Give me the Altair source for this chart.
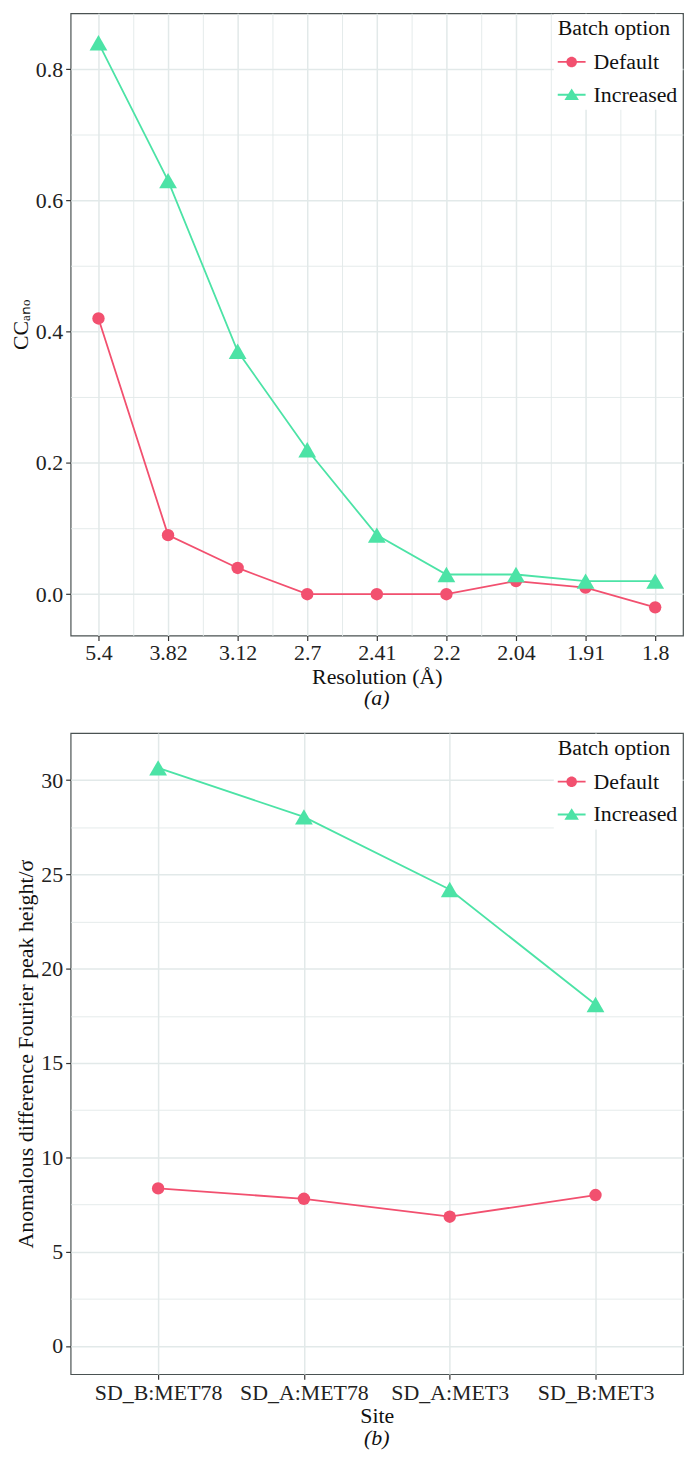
import json
import altair as alt
import pandas as pd

# ---------------- data ----------------
SERIES = ["Default", "Increased"]
COLORS = ["#F2506F", "#4CE3A6"]
MARKERS = ["circle", "triangle-up"]
LEGEND_TITLE = "Batch option"

resolution_labels = ["5.4", "3.82", "3.12", "2.7", "2.41", "2.2", "2.04", "1.91", "1.8"]
cc_default = [0.42, 0.09, 0.04, 0.00, 0.00, 0.00, 0.02, 0.01, -0.02]
cc_increased = [0.84, 0.63, 0.37, 0.22, 0.09, 0.03, 0.03, 0.02, 0.02]

sites = ["SD_B:MET78", "SD_A:MET78", "SD_A:MET3", "SD_B:MET3"]
peak_default = [8.35, 7.8, 6.85, 8.0]
peak_increased = [30.65, 28.05, 24.2, 18.1]

rows_a = []
for i, lab in enumerate(resolution_labels):
    rows_a.append({"idx": i + 1, "series": SERIES[0], "value": cc_default[i]})
    rows_a.append({"idx": i + 1, "series": SERIES[1], "value": cc_increased[i]})
df_a = pd.DataFrame(rows_a)

rows_b = []
for i, s in enumerate(sites):
    rows_b.append({"site": s, "series": SERIES[0], "value": peak_default[i]})
    rows_b.append({"site": s, "series": SERIES[1], "value": peak_increased[i]})
df_b = pd.DataFrame(rows_b)

# ---------------- style ----------------
FONT = "Liberation Serif"
FS = 22
GRID = "#E2E9E9"
MARK_SIZES = [155, 320]

# legend glyphs (filled, unit coordinates): a short line with the marker on it
LEG_CIRCLE = ("M-1,-0.065H1V0.065H-1Z "
              "M-0.38,0A0.38,0.38 0 1,1 0.38,0A0.38,0.38 0 1,1 -0.38,0Z")
LEG_TRIANGLE = "M-1,-0.065H1V0.065H-1Z M0,-0.45L0.52,0.37L-0.52,0.37Z"
LEGEND_SYMBOLS = [LEG_CIRCLE, LEG_TRIANGLE]


def cond(test, yes, no):
    return {"condition": {"test": test, "value": yes}, "value": no}


def build_panel(df, x_enc, y_enc, width, height, caption):
    base = alt.Chart(df).encode(x=x_enc, y=y_enc)
    layers = []
    for s, c in zip(SERIES, COLORS):
        layers.append(
            base.transform_filter(alt.datum.series == s).mark_line(strokeWidth=1.8, color=c)
        )
    for s, c, m, sz in zip(SERIES, COLORS, MARKERS, MARK_SIZES):
        layers.append(
            base.transform_filter(alt.datum.series == s).mark_point(
                shape=m, filled=True, size=sz, opacity=1, color=c
            )
        )
    leg = alt.Chart(df).transform_filter("false").mark_point(
        filled=True, opacity=1, strokeWidth=0
    ).encode(
        color=alt.Color("series:N", scale=alt.Scale(domain=SERIES, range=COLORS),
                        legend=alt.Legend(title=LEGEND_TITLE)),
        shape=alt.Shape("series:N", scale=alt.Scale(domain=SERIES, range=LEGEND_SYMBOLS),
                        legend=alt.Legend(title=LEGEND_TITLE)),
    )
    layers.append(leg)
    return alt.layer(*layers).properties(
        width=width,
        height=height,
        title=alt.TitleParams(
            caption, orient="bottom", font=FONT, fontSize=FS, fontStyle="italic",
            fontWeight="normal", color="#111111", offset=1, anchor="middle",
        ),
    )


# ---------------- panel (a) ----------------
x_vals_a = [i / 2 for i in range(2, 19)]
labels_js = json.dumps(resolution_labels)
x_a = alt.X(
    "idx:Q",
    title="Resolution (Å)",
    scale=alt.Scale(domain=[0.6, 9.4], nice=False, zero=False),
    axis=alt.Axis(
        values=x_vals_a,
        labelExpr=f"datum.value % 1 == 0 ? {labels_js}[datum.value - 1] : ''",
        gridWidth=cond("datum.value % 1 != 0", 0.9, 1.5),
        tickOpacity=cond("datum.value % 1 != 0", 0, 1),
        labelPadding=2,
        titlePadding=3,
    ),
)
y_vals_a = [round(v / 10, 1) for v in range(0, 9)]
y_a = alt.Y(
    "value:Q",
    title="CCₐₙₒ",
    scale=alt.Scale(domain=[-0.063, 0.885], nice=False, zero=False),
    axis=alt.Axis(
        values=y_vals_a,
        labelExpr="round(datum.value*10) % 2 == 0 ? format(datum.value, '.1f') : ''",
        gridWidth=cond("round(datum.value*10) % 2 != 0", 0.9, 1.5),
        tickOpacity=cond("round(datum.value*10) % 2 != 0", 0, 1),
        titlePadding=3,
    ),
)
panel_a = build_panel(df_a, x_a, y_a, 616, 626, "(a)")

# ---------------- panel (b) ----------------
x_b = alt.X(
    "site:N",
    title="Site",
    sort=sites,
    scale=alt.Scale(padding=0.6),
    axis=alt.Axis(labelAngle=0, grid=True, gridWidth=1.5, titlePadding=3),
)
y_vals_b = [v * 2.5 for v in range(0, 13)]
y_b = alt.Y(
    "value:Q",
    title="Anomalous difference Fourier peak height/σ",
    scale=alt.Scale(domain=[-1.5, 32.5], nice=False, zero=False),
    axis=alt.Axis(
        values=y_vals_b,
        labelExpr="datum.value % 5 == 0 ? format(datum.value, 'd') : ''",
        gridWidth=cond("datum.value % 5 != 0", 0.9, 1.5),
        tickOpacity=cond("datum.value % 5 != 0", 0, 1),
        titlePadding=3,
    ),
)
panel_b = build_panel(df_b, x_b, y_b, 616, 645, "(b)")

chart = (
    alt.vconcat(panel_a, panel_b, spacing=22)
    .resolve_scale(color="independent", shape="independent")
    .resolve_legend(color="independent", shape="independent")
    .configure(background="white", padding=0)
    .configure_view(stroke="#4a5252", strokeWidth=1.2)
    .configure_axis(
        labelFont=FONT, labelFontSize=FS, labelColor="#222222",
        titleFont=FONT, titleFontSize=FS, titleFontWeight="normal", titleColor="#111111",
        domain=False, tickColor="#333333", tickSize=5, tickWidth=1.2,
        gridColor=GRID, labelPadding=3,
    )
    .configure_legend(
        orient="top-right", offset=1, padding=4, fillColor="white",
        titleFont=FONT, titleFontSize=FS, titleFontWeight="normal", titleColor="#111111",
        labelFont=FONT, labelFontSize=FS, labelColor="#111111",
        symbolSize=784, symbolStrokeWidth=0, labelOffset=8, rowPadding=8, titlePadding=8,
    )
)

chart.save("out.html", embed_options={"renderer": "svg", "actions": False})
